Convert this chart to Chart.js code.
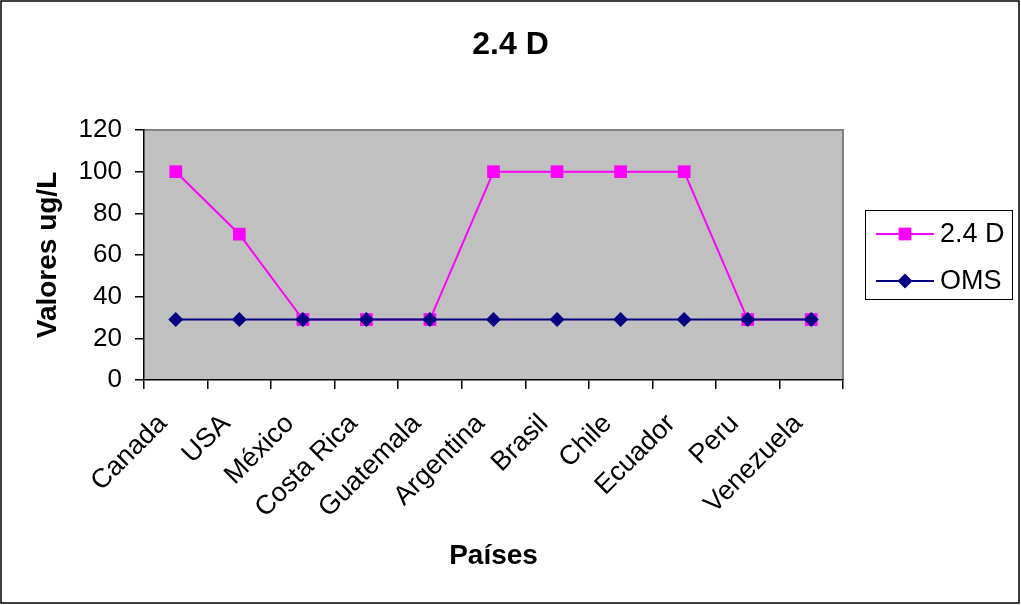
<!DOCTYPE html>
<html lang="es">
<head>
    <meta charset="UTF-8">
    <title>2.4 D</title>
    <script src="https://cdn.jsdelivr.net/npm/chart.js"></script>
    <style>
        body { margin: 0; padding: 0; background: #ffffff; }
        .wrap { width: 1021px; height: 605px; position: relative; }
    </style>
</head>
<body>
    <div class="wrap"><canvas id="chart"></canvas></div>

    <script>
        // Datos
        const paises = ['Canada', 'USA', 'México', 'Costa Rica', 'Guatemala', 'Argentina', 'Brasil', 'Chile', 'Ecuador', 'Peru', 'Venezuela'];
        const valores24D = [100, 70, 29, 29, 29, 100, 100, 100, 100, 29, 29];
        const valoresOMS = [29, 29, 29, 29, 29, 29, 29, 29, 29, 29, 29];
        const ejeY = [0, 20, 40, 60, 80, 100, 120];
        const titulo = '2.4 D';

        const fuente = "'Liberation Sans', Arial, sans-serif";

        // fondo gris del área de trazado, marco exterior y título centrado en todo el ancho
        const fondo = {
            id: 'fondo',
            beforeDraw(chart) {
                const { ctx, chartArea: a } = chart;
                ctx.save();
                ctx.fillStyle = '#ffffff';
                ctx.fillRect(0, 0, chart.width, chart.height);
                ctx.fillStyle = '#c0c0c0';
                ctx.fillRect(a.left, a.top, a.right - a.left, a.bottom - a.top);
                ctx.strokeStyle = '#808080';
                ctx.lineWidth = 2;
                ctx.beginPath();
                ctx.moveTo(a.left, a.top);
                ctx.lineTo(a.right, a.top);
                ctx.lineTo(a.right, a.bottom);
                ctx.stroke();
                ctx.strokeStyle = '#000000';
                ctx.lineWidth = 1.5;
                ctx.strokeRect(1, 1, chart.width - 3, chart.height - 3);
                ctx.fillStyle = '#000000';
                ctx.font = 'bold 32px ' + fuente;
                ctx.textAlign = 'center';
                ctx.textBaseline = 'middle';
                ctx.fillText(titulo, chart.width / 2, 45);
                ctx.restore();
            }
        };

        // leyenda con línea y marcador, como en Excel
        const leyenda = {
            id: 'leyenda',
            afterDraw(chart) {
                const { ctx } = chart;
                const x0 = 865, y0 = 210, w = 147, h = 89;
                ctx.save();
                ctx.strokeStyle = '#000000';
                ctx.lineWidth = 1;
                ctx.strokeRect(x0 + 0.5, y0 + 0.5, w, h);
                ctx.font = '27px ' + fuente;
                ctx.textBaseline = 'middle';
                ctx.textAlign = 'left';
                chart.data.datasets.forEach((ds, i) => {
                    const y = y0 + 24 + i * 47;
                    ctx.strokeStyle = ds.borderColor;
                    ctx.lineWidth = ds.borderWidth;
                    ctx.beginPath();
                    ctx.moveTo(876, y);
                    ctx.lineTo(934, y);
                    ctx.stroke();
                    ctx.fillStyle = ds.pointBackgroundColor;
                    Chart.helpers.drawPoint(ctx, {
                        pointStyle: ds.pointStyle,
                        radius: ds.pointRadius,
                        rotation: 0,
                        borderWidth: 0
                    }, 905, y);
                    ctx.fillStyle = '#000000';
                    ctx.fillText(ds.label, 940, y + 1);
                });
                ctx.restore();
            }
        };

        const config = {
            type: 'line',
            data: {
                labels: paises,
                datasets: [
                    {
                        label: '2.4 D',
                        data: valores24D,
                        borderColor: '#ff00ff',
                        backgroundColor: '#ff00ff',
                        pointBackgroundColor: '#ff00ff',
                        pointBorderColor: '#ff00ff',
                        borderWidth: 2,
                        pointStyle: 'rect',
                        pointRadius: 9,
                        pointBorderWidth: 0,
                        tension: 0,
                        order: 1
                    },
                    {
                        label: 'OMS',
                        data: valoresOMS,
                        borderColor: '#000080',
                        backgroundColor: '#000080',
                        pointBackgroundColor: '#000080',
                        pointBorderColor: '#000080',
                        borderWidth: 2,
                        pointStyle: 'rectRot',
                        pointRadius: 7.5,
                        pointBorderWidth: 0,
                        tension: 0,
                        order: 0
                    }
                ]
            },
            options: {
                responsive: true,
                maintainAspectRatio: false,
                animation: false,
                layout: { padding: { left: 0, right: 178, top: 130, bottom: 0 } },
                plugins: {
                    legend: { display: false },
                    tooltip: { enabled: false },
                    title: { display: false }
                },
                scales: {
                    x: {
                        offset: true,
                        grid: { offset: true, drawOnChartArea: false, tickLength: 9, color: '#000000', lineWidth: 1.5 },
                        border: { color: '#000000', width: 1.5 },
                        ticks: {
                            color: '#000000',
                            font: { family: fuente, size: 27 },
                            minRotation: 45,
                            maxRotation: 45,
                            autoSkip: false,
                            labelOffset: -13,
                            padding: 19
                        },
                        title: {
                            display: true,
                            text: 'Países',
                            color: '#000000',
                            font: { family: fuente, size: 28, weight: 'bold' },
                            padding: { top: 0, bottom: 32 }
                        },
                        afterFit(scale) { scale.height = 225; }
                    },
                    y: {
                        min: ejeY[0],
                        max: ejeY[ejeY.length - 1],
                        afterBuildTicks(scale) { scale.ticks = ejeY.map(v => ({ value: v })); },
                        grid: { drawOnChartArea: false, tickLength: 9, color: '#000000', lineWidth: 1.5 },
                        border: { color: '#000000', width: 1.5 },
                        ticks: {
                            color: '#000000',
                            font: { family: fuente, size: 26 },
                            padding: 13
                        },
                        title: {
                            display: true,
                            text: 'Valores ug/L',
                            color: '#000000',
                            font: { family: fuente, size: 28, weight: 'bold' },
                            padding: { top: 31, bottom: 0 }
                        },
                        afterFit(scale) { scale.width = 144; }
                    }
                }
            },
            plugins: [fondo, leyenda]
        };

        new Chart(document.getElementById('chart'), config);
    </script>
</body>
</html>
